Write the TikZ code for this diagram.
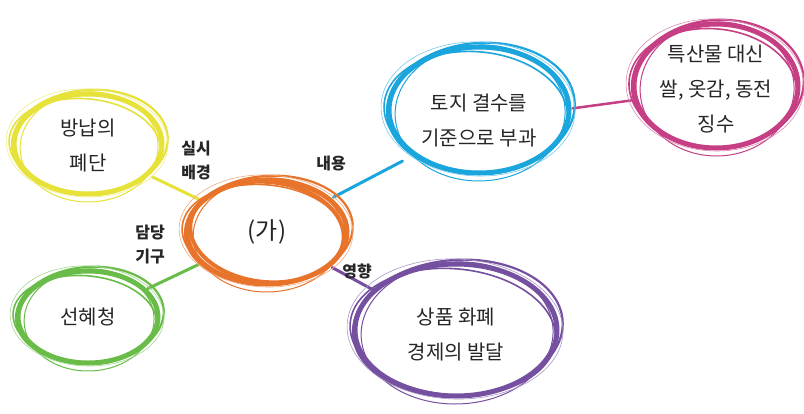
\documentclass[tikz,border=0pt]{standalone}
\usepackage{fontspec}
\newfontfamily\kr{Noto Sans CJK KR}
\usetikzlibrary{shapes.geometric}
\definecolor{cOrange}{HTML}{E8742C}
\definecolor{cYellow}{HTML}{E6E23A}
\definecolor{cGreen}{HTML}{68BC47}
\definecolor{cBlue}{HTML}{1BA5DD}
\definecolor{cMag}{HTML}{C63E84}
\definecolor{cPurple}{HTML}{7550A0}
\tikzset{
  bubble/.style={ellipse, draw=none, inner sep=0pt, align=center, font=\kr\fontsize{20}{35}\selectfont, text=black!85},
  tag/.style={align=center, font=\kr\bfseries\fontsize{16}{24}\selectfont, text=black!85, inner sep=0pt},
  link/.style={line width=3pt, line cap=round},
}
% color, cx, cy, rx, ry
\newcommand\skell[5]{%
  \begin{scope}[shift={(#2,#3)}]
    \draw[#1, line width=5pt] (0,0) ellipse [x radius=#4, y radius=#5];
    \draw[#1, line width=2.2pt, rotate=4] (2,-2) ellipse [x radius=#4+4, y radius=#5+2];
    \draw[#1, line width=1.6pt, rotate=-5] (-3,2) ellipse [x radius=#4+2, y radius=#5-3];
    \draw[#1, line width=1pt, rotate=2] (1,3) ellipse [x radius=#4-5, y radius=#5+5];
    \draw[#1!60, line width=0.6pt, rotate=-2] (-1,-1) ellipse [x radius=#4+7, y radius=#5+4];
  \end{scope}}
\begin{document}
\begin{tikzpicture}[x=1pt,y=-1pt]
\useasboundingbox (0,0) rectangle (804,413);
\fill[white] (0,0) rectangle (804,413);

% nodes
\node[bubble, minimum width=170pt, minimum height=110pt, font=\kr\fontsize{24}{30}\selectfont] (ga) at (267,232) {(가)};
\node[bubble, minimum width=156pt, minimum height=108pt] (yel) at (88,146) {방납의\\폐단};
\node[bubble, minimum width=146pt, minimum height=98pt] (grn) at (88,317) {선혜청};
\node[bubble, minimum width=190pt, minimum height=134pt] (blu) at (479,121) {토지 결수를\\기준으로 부과};
\node[bubble, minimum width=172pt, minimum height=132pt] (mag) at (716,89) {특산물 대신\\쌀, 옷감, 동전\\징수};
\node[bubble, minimum width=210pt, minimum height=140pt] (pur) at (456,335) {상품 화폐\\경제의 발달};

% connectors
\draw[link, cYellow] (yel) -- (ga);
\draw[link, cGreen] (grn) -- (ga);
\draw[link, cBlue] (ga) -- (blu);
\draw[link, cMag, line width=2.5pt] (blu) -- (mag);
\draw[link, cPurple] (ga) -- (pur);

% sketchy outlines
\skell{cYellow}{88}{144}{74}{50}
\skell{cGreen}{88}{317}{70}{46}
\skell{cBlue}{479}{110}{90}{63}
\skell{cMag}{716}{86}{82}{62}
\skell{cPurple}{456}{330}{101}{66}
\skell{cOrange}{267}{232}{80}{52}
\draw[cOrange, line width=4pt, rotate around={-6:(267,232)}] (267,232) ellipse [x radius=77, y radius=50];

% labels
\node[tag] (l1) at (196,160) {실시\\배경};
\node[tag] (l2) at (150,245) {담당\\기구};
\node[tag] (l3) at (331,164) {내용};
\node[tag] (l4) at (357,271) {영향};
\end{tikzpicture}
\end{document}
